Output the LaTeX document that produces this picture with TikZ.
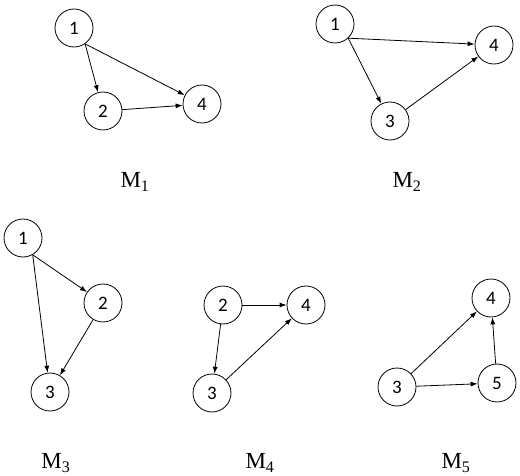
\documentclass[tikz,border=0pt]{standalone}
\usepackage{fontspec}
\setmainfont{Liberation Serif}
\newfontfamily\numfont{Carlito}
\usetikzlibrary{arrows.meta}

\begin{document}
\begin{tikzpicture}[x=1pt, y=-1pt, >={Latex[length=7pt,width=5pt]},
  vtx/.style={draw, circle, line width=0.8pt, minimum size=38pt, inner sep=0pt, font=\numfont\fontsize{19}{19}\selectfont},
  lbl/.style={font=\fontsize{23}{23}\selectfont},
  edge/.style={->, line width=0.8pt}]
\useasboundingbox (0,0) rectangle (520,476);
% M1
\node[vtx] (m1a) at (74,28) {1};
\node[vtx] (m1b) at (103,111) {2};
\node[vtx] (m1d) at (202,104) {4};
\node[lbl] (m1) at (135,182) {M\textsubscript{1}};
\draw[edge] (m1a.-55)--(m1b);\draw[edge] (m1a.-55)--(m1d);\draw[edge] (m1b)--(m1d);
% M2
\node[vtx] (m2a) at (335,24) {1};
\node[vtx] (m2d) at (494,45) {4};
\node[vtx] (m2c) at (390,121) {3};
\node[lbl] (m2) at (407,182) {M\textsubscript{2}};
\draw[edge] (m2a.-47)--(m2c);\draw[edge] (m2a.-47)--(m2d);\draw[edge] (m2c)--(m2d);
% M3
\node[vtx] (m3a) at (23,238) {1};
\node[vtx] (m3b) at (103,303) {2};
\node[vtx] (m3c) at (50,392) {3};
\node[lbl] (m3) at (56,463) {M\textsubscript{3}};
\draw[edge] (m3a.-60)--(m3b);\draw[edge] (m3a.-60)--(m3c);\draw[edge] (m3b)--(m3c);
% M4
\node[vtx] (m4b) at (223,305) {2};
\node[vtx] (m4d) at (306,305) {4};
\node[vtx] (m4c) at (212,393) {3};
\node[lbl] (m4) at (260,463) {M\textsubscript{4}};
\draw[edge] (m4b)--(m4d);\draw[edge] (m4b)--(m4c);\draw[edge] (m4c)--(m4d);
% M5
\node[vtx] (m5d) at (491,298) {4};
\node[vtx] (m5c) at (397,387) {3};
\node[vtx] (m5e) at (497,383) {5};
\node[lbl] (m5) at (456,463) {M\textsubscript{5}};
\draw[edge] (m5c)--(m5d);\draw[edge] (m5c)--(m5e);\draw[edge] (m5e)--(m5d);
\end{tikzpicture}
\end{document}
